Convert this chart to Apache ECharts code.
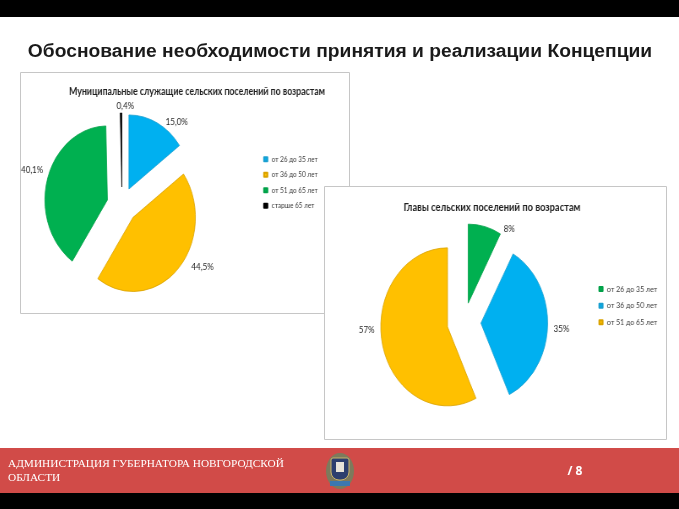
<!DOCTYPE html>
<html><head><meta charset="utf-8">
<script src="https://cdn.jsdelivr.net/npm/echarts@6/dist/echarts.min.js"></script>
<style>
html,body{margin:0;padding:0;width:679px;height:509px;overflow:hidden;background:#fff}
#bg{position:absolute;left:0;top:0;width:679px;height:509px}
.pane{position:absolute;transform-origin:0 0}
</style></head><body>
<div id="bg"></div>
<div id="p1" class="pane"></div>
<div id="p2" class="pane"></div>
<script>
// ---- data ----
const pageTitle = 'Обоснование необходимости принятия и реализации Концепции';
const footerLines = ['АДМИНИСТРАЦИЯ ГУБЕРНАТОРА НОВГОРОДСКОЙ', 'ОБЛАСТИ'];
const pageNumber = '/ 8';

const chart1Title = 'Муниципальные служащие сельских поселений по возрастам';
const chart1Categories = ['от 26 до 35 лет', 'от 36 до 50 лет', 'от 51 до 65 лет', 'старше 65 лет'];
const chart1Values = [15.0, 44.5, 40.1, 0.4];

const chart2Title = 'Главы сельских поселений по возрастам';
const chart2Categories = ['от 26 до 35 лет', 'от 36 до 50 лет', 'от 51 до 65 лет'];
const chart2Values = [8, 35, 57];

// ---- styles ----
const chart1Colors = ['#00B0F0', '#FFC000', '#00B050', '#000000'];
const chart1Borders = ['#1a9fd0', '#d9a200', '#00a048', '#000000'];
const chart2Colors = ['#00B050', '#00B0F0', '#FFC000'];
const chart2Borders = ['#00a048', '#1a9fd0', '#d9a200'];
// label nudges (page px) relative to the library's outside placement
const chart1LabelShift = [[1, 6], [4.5, -8], [6.5, -7], [17.5, 1]];
const chart2LabelShift = [[13, 10], [-5, 3], [3, -16]];

const S = 0.845; // horizontal squeeze of the inserted chart pictures
const FONT = 'Lato, "Noto Sans", sans-serif';

// ---- background page ----
const bg = echarts.init(document.getElementById('bg'), null, {renderer: 'canvas'});
bg.setOption({
  animation: false,
  graphic: [
    {type: 'rect', shape: {x: 0, y: 0, width: 679, height: 17}, style: {fill: '#000'}},
    {type: 'text', x: 340, y: 52, scaleX: 1.10, style: {text: pageTitle, x: 0, y: 0, align: 'center', verticalAlign: 'middle',
      font: 'bold 17.5px "Liberation Sans", Arial, sans-serif', fill: '#1a1a1a'}},
    {type: 'rect', shape: {x: 20.5, y: 72.5, width: 329, height: 241}, style: {fill: '#fff', stroke: '#c6c6c6', lineWidth: 1}, z: 1},
    {type: 'rect', shape: {x: 324.5, y: 186.5, width: 342, height: 253}, style: {fill: '#fff', stroke: '#c6c6c6', lineWidth: 1}, z: 2},
    {type: 'rect', shape: {x: 0, y: 448, width: 679, height: 45}, style: {fill: '#d14b48'}},
    {type: 'rect', shape: {x: 0, y: 493, width: 679, height: 16}, style: {fill: '#000'}},
    {type: 'text', style: {text: footerLines[0], x: 8, y: 464, verticalAlign: 'middle',
      font: '11.3px "Liberation Serif", "Times New Roman", serif', fill: '#fff'}},
    {type: 'text', style: {text: footerLines[1], x: 8, y: 478, verticalAlign: 'middle',
      font: '11.3px "Liberation Serif", "Times New Roman", serif', fill: '#fff'}},
    {type: 'text', style: {text: pageNumber, x: 575, y: 472, align: 'center', verticalAlign: 'middle',
      font: 'bold 12px "Open Sans", sans-serif', fill: '#fff'}},
    // emblem
    {type: 'group', children: [
      {type: 'ellipse', shape: {cx: 340, cy: 471, rx: 14, ry: 18}, style: {fill: '#7d7a5c'}},
      {type: 'rect', shape: {x: 331, y: 458, width: 18, height: 22, r: [2, 2, 8, 8]}, style: {fill: '#2d3f6e', stroke: '#c9b46a', lineWidth: 1}},
      {type: 'rect', shape: {x: 336, y: 462, width: 8, height: 10}, style: {fill: '#e8e4d8'}},
      {type: 'rect', shape: {x: 330, y: 481, width: 20, height: 5}, style: {fill: '#3b78b0'}}
    ]}
  ]
});

// ---- pie panes ----
function pct1(p) { return p.value.toFixed(1).replace('.', ',') + '%'; }
function pct0(p) { return Math.round(p.value) + '%'; }

function setupPane(id, left, top, width, height) {
  const el = document.getElementById(id);
  el.style.left = left + 'px';
  el.style.top = top + 'px';
  el.style.width = (width / S) + 'px';
  el.style.height = height + 'px';
  el.style.transform = 'scaleX(' + S + ')';
  return echarts.init(el, null, {renderer: 'canvas'});
}

function pieOption(cfg) {
  return {
    animation: false,
    title: {
      text: cfg.title, left: cfg.titleX, top: cfg.titleY, textAlign: 'center', padding: 0,
      textStyle: {fontFamily: FONT, fontWeight: 'bold', fontSize: cfg.titleSize, color: '#1f1f1f'}
    },
    legend: {
      orient: 'vertical', left: cfg.legendX, top: cfg.legendY, padding: 0,
      itemWidth: 4, itemHeight: 4, itemGap: cfg.legendGap, icon: 'rect',
      selectedMode: false,
      textStyle: {fontFamily: FONT, fontSize: cfg.legendSize, color: '#3a3a3a', lineHeight: 10},
      data: cfg.categories
    },
    series: [{
      type: 'pie',
      center: cfg.center, radius: cfg.radius,
      startAngle: 90, clockwise: true,
      selectedMode: 'multiple', selectedOffset: cfg.offset,
      avoidLabelOverlap: false,
      emphasis: {disabled: true},
      label: {position: 'outside', formatter: cfg.formatter, fontFamily: FONT, fontSize: 9.5, color: '#262626'},
      labelLine: {show: false, length: 8, length2: 0},
      labelLayout: function (p) {
        const s = cfg.shift[p.dataIndex] || [0, 0];
        return {dx: s[0] / S, dy: s[1]};
      },
      data: cfg.categories.map((n, i) => ({
        name: n, value: cfg.values[i], selected: true,
        itemStyle: {color: cfg.colors[i], borderColor: cfg.borders[i], borderWidth: 0.8}
      }))
    }]
  };
}

const c1 = setupPane('p1', 20, 72, 330, 242);
c1.setOption(pieOption({
  title: chart1Title, titleX: 209.5, titleY: 14.3, titleSize: 10.4,
  legendX: 287.8, legendY: 82.3, legendGap: 5.5, legendSize: 7.6,
  categories: chart1Categories, values: chart1Values, colors: chart1Colors, borders: chart1Borders,
  center: [120.7, 133], radius: 74, offset: 18, formatter: pct1, shift: chart1LabelShift
}));

const c2 = setupPane('p2', 325, 187, 342, 253);
c2.setOption(pieOption({
  title: chart2Title, titleX: 197.6, titleY: 15, titleSize: 11.1,
  legendX: 323.6, legendY: 97, legendGap: 6.65, legendSize: 8.3,
  categories: chart2Categories, values: chart2Values, colors: chart2Colors, borders: chart2Borders,
  center: [164.5, 135.5], radius: 79, offset: 20, formatter: pct0, shift: chart2LabelShift
}));
</script>
</body></html>
